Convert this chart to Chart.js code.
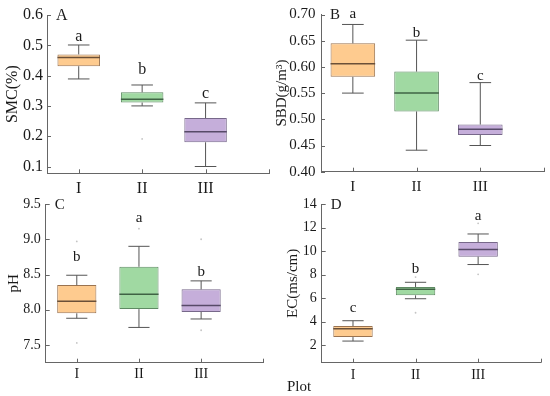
<!DOCTYPE html>
<html>
<head>
<meta charset="utf-8">
<script src="https://cdn.jsdelivr.net/npm/chart.js@4.4.0/dist/chart.umd.min.js"></script>
<style>
    body { margin: 0; background: #fff; width: 550px; height: 396px; position: relative; overflow: hidden; font-family: "Liberation Serif", serif; }
    canvas { position: absolute; }
    #plot-label { position: absolute; left: 287px; top: 379px; font-size: 15px; line-height: 15px; color: #1a1a1a; }
</style>
</head>
<body>
<canvas id="chart-a" width="275" height="198" style="left:0;top:0"></canvas>
<canvas id="chart-b" width="275" height="198" style="left:275px;top:0"></canvas>
<canvas id="chart-c" width="275" height="208" style="left:0;top:188px"></canvas>
<canvas id="chart-d" width="275" height="208" style="left:275px;top:188px"></canvas>
<div id="plot-label">Plot</div>
<script>
const plots = ['I', 'II', 'III'];
const plotPos = [1, 2, 3];
const xTicks = [1, 2, 3, 4];

// A - soil moisture
const smcLow = [0.389, 0.300, 0.100];
const smcQ1 = [0.431, 0.311, 0.180];
const smcMedian = [0.460, 0.322, 0.215];
const smcQ3 = [0.470, 0.345, 0.260];
const smcHigh = [0.501, 0.369, 0.310];
const smcMean = [0.449, 0.326, 0.217];
const smcOutliers = [[], [0.191], []];
const smcLetters = ['a', 'b', 'c'];
const smcLetterAt = [0.527, 0.418, 0.339];
const smcTicks = [0.1, 0.2, 0.3, 0.4, 0.5, 0.6];

// B - bulk density
const sbdLow = [0.550, 0.441, 0.450];
const sbdQ1 = [0.581, 0.515, 0.470];
const sbdMedian = [0.606, 0.550, 0.481];
const sbdQ3 = [0.645, 0.591, 0.490];
const sbdHigh = [0.681, 0.651, 0.570];
const sbdMean = [0.612, 0.556, 0.484];
const sbdOutliers = [[], [], []];
const sbdLetters = ['a', 'b', 'c'];
const sbdLetterAt = [0.701, 0.664, 0.583];
const sbdTicks = [0.40, 0.45, 0.50, 0.55, 0.60, 0.65, 0.70];

// C - pH
const phLow = [7.88, 7.75, 7.87];
const phQ1 = [7.95, 8.01, 7.97];
const phMedian = [8.12, 8.22, 8.06];
const phQ3 = [8.35, 8.61, 8.29];
const phHigh = [8.49, 8.90, 8.41];
const phMean = [8.195, 8.33, 8.16];
const phOutliers = [[8.97, 7.53], [9.15], [9.00, 7.71]];
const phLetters = ['b', 'a', 'b'];
const phLetterAt = [8.75, 9.30, 8.53];
const phTicks = [7.5, 8.0, 8.5, 9.0, 9.5];

// D - electrical conductivity
const ecLow = [2.34, 5.94, 8.85];
const ecQ1 = [2.68, 6.23, 9.52];
const ecMedian = [3.38, 6.74, 10.14];
const ecQ3 = [3.62, 6.94, 10.77];
const ecHigh = [4.07, 7.34, 11.45];
const ecMean = [3.28, 6.60, 10.20];
const ecOutliers = [[], [4.75, 7.78], [8.02, 12.36]];
const ecLetters = ['c', 'b', 'a'];
const ecLetterAt = [5.12, 8.47, 12.98];
const ecTicks = [2, 4, 6, 8, 10, 12, 14];

const fills = ['#FECB8F', '#A0D9A2', '#C5AEDA'];
const edges = ['#9A7350', '#5E8A63', '#77688A'];
const medianColors = ['#6B5038', '#3F6344', '#574A68'];
const axisColor = '#666';

Chart.defaults.font.family = '"Liberation Serif", serif';
Chart.defaults.color = '#1a1a1a';

function boxExtras(p) {
    return {
        id: 'boxExtras',
        afterDatasetsDraw(chart) {
            const { ctx, chartArea, scales: { x, y } } = chart;
            const unit = x.getPixelForValue(2) - x.getPixelForValue(1);
            const capHalf = unit * 0.17;
            const boxHalf = unit * p.boxWidth / 2;
            ctx.save();
            ctx.lineWidth = 1;
            plotPos.forEach((pos, i) => {
                const cx = x.getPixelForValue(pos);
                ctx.strokeStyle = '#555';
                ctx.beginPath();
                ctx.moveTo(cx, y.getPixelForValue(p.q3[i]));
                ctx.lineTo(cx, y.getPixelForValue(p.high[i]));
                ctx.moveTo(cx - capHalf, y.getPixelForValue(p.high[i]));
                ctx.lineTo(cx + capHalf, y.getPixelForValue(p.high[i]));
                ctx.moveTo(cx, y.getPixelForValue(p.q1[i]));
                ctx.lineTo(cx, y.getPixelForValue(p.low[i]));
                ctx.moveTo(cx - capHalf, y.getPixelForValue(p.low[i]));
                ctx.lineTo(cx + capHalf, y.getPixelForValue(p.low[i]));
                ctx.stroke();

                ctx.strokeStyle = medianColors[i];
                ctx.lineWidth = 1.5;
                ctx.beginPath();
                ctx.moveTo(cx - boxHalf, y.getPixelForValue(p.median[i]));
                ctx.lineTo(cx + boxHalf, y.getPixelForValue(p.median[i]));
                ctx.stroke();
                ctx.lineWidth = 1;

                ctx.fillStyle = '#1a1a1a';
                ctx.font = p.letterFont + 'px "Liberation Serif"';
                ctx.textAlign = 'center';
                ctx.textBaseline = 'middle';
                ctx.fillText(p.letters[i], cx, y.getPixelForValue(p.letterAt[i]));
            });

            // inward tick marks
            ctx.strokeStyle = axisColor;
            ctx.beginPath();
            y.ticks.forEach(t => {
                const py = Math.round(y.getPixelForValue(t.value)) + 0.5;
                ctx.moveTo(chartArea.left, py);
                ctx.lineTo(chartArea.left + 4, py);
            });
            x.ticks.forEach(t => {
                const px = Math.round(x.getPixelForValue(t.value)) + 0.5;
                ctx.moveTo(px, chartArea.bottom);
                ctx.lineTo(px, chartArea.bottom - 4);
            });
            ctx.stroke();

            ctx.fillStyle = '#1a1a1a';
            ctx.font = p.letterFont + 'px "Liberation Serif"';
            ctx.textAlign = 'left';
            ctx.textBaseline = 'middle';
            ctx.fillText(p.panel, chartArea.left + 9, chartArea.top + 1);
            ctx.restore();
        }
    };
}

function makePanel(id, p) {
    const ctx = document.getElementById(id).getContext('2d');
    const outlierPts = [];
    p.outliers.forEach((arr, i) => arr.forEach(v => outlierPts.push({ x: plotPos[i], y: v })));
    return new Chart(ctx, {
        type: 'bar',
        data: {
            datasets: [{
                data: plotPos.map((pos, i) => ({ x: pos, y: [p.q1[i], p.q3[i]] })),
                backgroundColor: fills,
                borderColor: edges,
                borderWidth: 1,
                borderSkipped: false,
                categoryPercentage: 1,
                barPercentage: p.boxWidth
            }, {
                type: 'scatter',
                data: plotPos.map((pos, i) => ({ x: pos, y: p.mean[i] })),
                pointRadius: 1.1,
                pointBorderWidth: 0,
                pointBackgroundColor: medianColors
            }, {
                type: 'scatter',
                data: outlierPts,
                pointRadius: 0.9,
                pointBorderWidth: 0,
                pointBackgroundColor: '#c4c4c4'
            }]
        },
        options: {
            responsive: false,
            animation: false,
            layout: { padding: { top: p.padTop, right: p.padRight, left: 0, bottom: 0 } },
            plugins: { legend: { display: false }, tooltip: { enabled: false } },
            scales: {
                x: {
                    type: 'linear',
                    min: 0.5,
                    max: 4,
                    offset: false,
                    grid: { display: false, drawTicks: false },
                    border: { display: true, color: axisColor, width: 1 },
                    afterBuildTicks: s => { s.ticks = xTicks.map(v => ({ value: v })); },
                    afterFit: s => { s.height = p.xHeight; },
                    ticks: {
                        autoSkip: false,
                        maxRotation: 0,
                        padding: p.xPad,
                        font: { size: p.tickFont },
                        callback: v => plots[v - 1] || ''
                    }
                },
                y: {
                    min: p.yMin,
                    max: p.yMax,
                    grid: { display: false, drawTicks: false },
                    border: { display: true, color: axisColor, width: 1 },
                    afterBuildTicks: s => { s.ticks = p.ticks.map(v => ({ value: v })); },
                    afterFit: s => { s.width = p.yWidth; },
                    ticks: {
                        padding: p.yPad,
                        font: { size: p.tickFont },
                        callback: v => v.toFixed(p.decimals)
                    },
                    title: {
                        display: true,
                        text: p.title,
                        font: { size: p.titleFont, lineHeight: 1 },
                        padding: { top: p.titlePad, bottom: 0 }
                    }
                }
            }
        },
        plugins: [boxExtras(p)]
    });
}

makePanel('chart-a', {
    panel: 'A', title: 'SMC(%)', low: smcLow, q1: smcQ1, median: smcMedian, q3: smcQ3, high: smcHigh,
    mean: smcMean, outliers: smcOutliers, letters: smcLetters, letterAt: smcLetterAt, ticks: smcTicks,
    yMin: 0.0776, yMax: 0.6, decimals: 1, boxWidth: 0.67,
    padTop: 15, padRight: 2, yWidth: 47, xHeight: 24.7, xPad: 6, yPad: 4,
    tickFont: 16, titleFont: 16, titlePad: 4.5, letterFont: 16
});
makePanel('chart-b', {
    panel: 'B', title: 'SBD(g/m³)', low: sbdLow, q1: sbdQ1, median: sbdMedian, q3: sbdQ3, high: sbdHigh,
    mean: sbdMean, outliers: sbdOutliers, letters: sbdLetters, letterAt: sbdLetterAt, ticks: sbdTicks,
    yMin: 0.40, yMax: 0.70, decimals: 2, boxWidth: 0.7,
    padTop: 13.3, padRight: 6, yWidth: 46, xHeight: 26.3, xPad: 6, yPad: 5.5,
    tickFont: 15, titleFont: 15, titlePad: 0, letterFont: 15
});
makePanel('chart-c', {
    panel: 'C', title: 'pH', low: phLow, q1: phQ1, median: phMedian, q3: phQ3, high: phHigh,
    mean: phMean, outliers: phOutliers, letters: phLetters, letterAt: phLetterAt, ticks: phTicks,
    yMin: 7.25, yMax: 9.5, decimals: 1, boxWidth: 0.63,
    padTop: 16, padRight: 11.7, yWidth: 45.7, xHeight: 33.3, xPad: 3, yPad: 5,
    tickFont: 14, titleFont: 15, titlePad: 6.5, letterFont: 15
});
makePanel('chart-d', {
    panel: 'D', title: 'EC(ms/cm)', low: ecLow, q1: ecQ1, median: ecMedian, q3: ecQ3, high: ecHigh,
    mean: ecMean, outliers: ecOutliers, letters: ecLetters, letterAt: ecLetterAt, ticks: ecTicks,
    yMin: 0.5, yMax: 14, decimals: 0, boxWidth: 0.63,
    padTop: 16, padRight: 9.3, yWidth: 46.7, xHeight: 33.3, xPad: 4, yPad: 5,
    tickFont: 14, titleFont: 15, titlePad: 10.5, letterFont: 15
});
</script>
</body>
</html>
